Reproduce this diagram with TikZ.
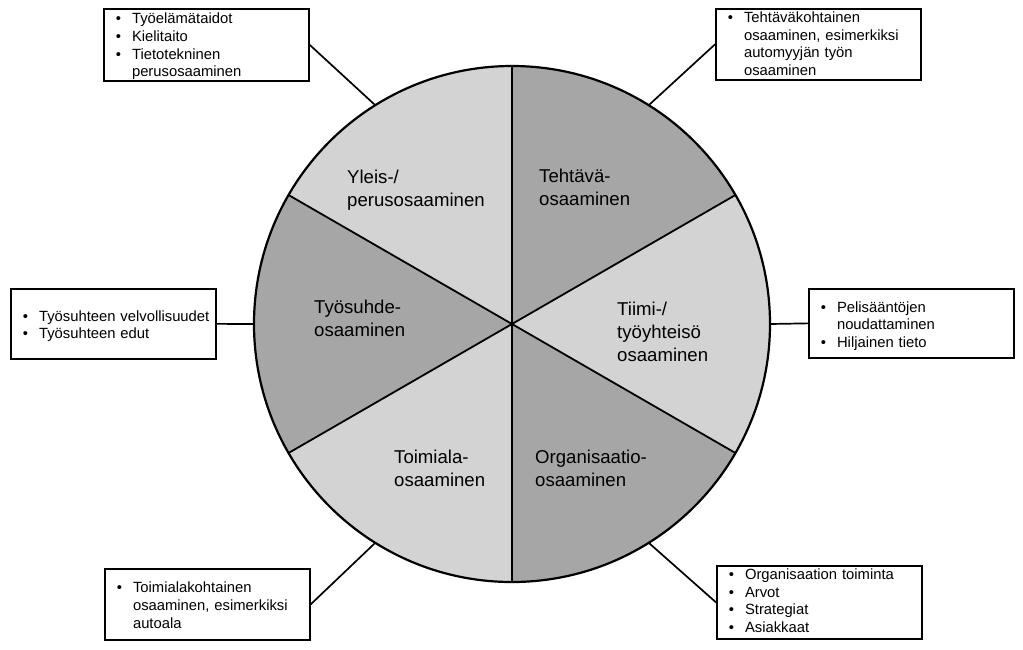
\documentclass[tikz,border=0pt]{standalone}
\usepackage{fontspec}
\setmainfont{Liberation Sans}
\usetikzlibrary{positioning,backgrounds}
\definecolor{lightsector}{RGB}{211,211,211}
\definecolor{darksector}{RGB}{166,166,166}
\newcommand{\notefont}{\fontsize{14.8}{17.7}\selectfont}
\newcommand{\wedgefont}{\fontsize{18.6}{23}\selectfont}
% bullet list, lowered a little inside its box
\newcommand{\pointlist}[2][2.5pt]{\raisebox{-#1}[\height][\depth]{\begin{tabular}{@{\hspace{12pt}}l@{\hspace{11pt}}l@{}}#2\end{tabular}}}

\begin{document}
\begin{tikzpicture}[
    x=1pt, y=-1pt,
    note/.style={draw, line width=1.7pt, anchor=north west, inner sep=0pt, text width=205pt, minimum height=72pt, align=left, font=\notefont},
    wedge/.style={anchor=north west, inner sep=0pt, align=left, font=\wedgefont},
    spoke/.style={line width=1.8pt},
    link/.style={line width=1.7pt}
]
    \useasboundingbox (0,0) rectangle (1023,649);

    % Wheel
    \node[circle, draw, line width=2.2pt, minimum size=516pt, inner sep=0pt, outer sep=0pt] (wheel) at (512,324) {};

    \begin{scope}[on background layer]
        \fill[white] (0,0) rectangle (1023,649);
        \fill[lightsector] (wheel.center) -- ++(-30:258) arc[start angle=-30, end angle=30, radius=258] -- cycle;
        \fill[darksector] (wheel.center) -- ++(30:258) arc[start angle=30, end angle=90, radius=258] -- cycle;
        \fill[lightsector] (wheel.center) -- ++(90:258) arc[start angle=90, end angle=150, radius=258] -- cycle;
        \fill[darksector] (wheel.center) -- ++(150:258) arc[start angle=150, end angle=210, radius=258] -- cycle;
        \fill[lightsector] (wheel.center) -- ++(210:258) arc[start angle=210, end angle=270, radius=258] -- cycle;
        \fill[darksector] (wheel.center) -- ++(270:258) arc[start angle=270, end angle=330, radius=258] -- cycle;
    \end{scope}

    \draw[spoke] (wheel.90) -- (wheel.270);
    \draw[spoke] (wheel.30) -- (wheel.210);
    \draw[spoke] (wheel.150) -- (wheel.330);

    % Wedge labels
    \node[wedge] (yleis) at (347,170) {Yleis-/\\perusosaaminen};
    \node[wedge] (tehtava) at (539,169) {Tehtävä-\\osaaminen};
    \node[wedge] (tyosuhde) at (314,300) {Työsuhde-\\osaaminen};
    \node[wedge] (tiimi) at (617,302) {Tiimi-/\\työyhteisö\\osaaminen};
    \node[wedge] (toimiala) at (394,450) {Toimiala-\\osaaminen};
    \node[wedge] (organisaatio) at (535,450) {Organisaatio-\\osaaminen};

    % Notes
    \node[note] (yleisbox) at (103,8) {\pointlist[2pt]{
        \textbullet & Työelämätaidot\\
        \textbullet & Kielitaito\\
        \textbullet & Tietotekninen\\
                    & perusosaaminen}};
    \node[note, minimum height=71pt] (tehtavabox) at (715,8) {\pointlist[1pt]{
        \textbullet & Tehtäväkohtainen\\
                    & osaaminen, esimerkiksi\\
                    & automyyjän työn\\
                    & osaaminen}};
    \node[note, minimum height=70pt] (tyosuhdebox) at (10,288) {\pointlist{
        \textbullet & Työsuhteen velvollisuudet\\
        \textbullet & Työsuhteen edut}};
    \node[note, minimum height=69pt] (tiimibox) at (808,288) {\pointlist[3pt]{
        \textbullet & Pelisääntöjen\\
                    & noudattaminen\\
        \textbullet & Hiljainen tieto}};
    \node[note, minimum height=71pt] (toimialabox) at (104,568) {\pointlist{
        \textbullet & Toimialakohtainen\\
                    & osaaminen, esimerkiksi\\
                    & autoala}};
    \node[note, minimum height=73pt] (organisaatiobox) at (716,565) {\pointlist[0pt]{
        \textbullet & Organisaation toiminta\\
        \textbullet & Arvot\\
        \textbullet & Strategiat\\
        \textbullet & Asiakkaat}};

    % Links
    \draw[link] (yleisbox.east) -- (wheel.122);
    \draw[link] (tehtavabox.west) -- (wheel.58);
    \draw[link] (tyosuhdebox.east) -- (wheel.west);
    \draw[link] (tiimibox.west) -- (wheel.east);
    \draw[link] (toimialabox.east) -- (wheel.238);
    \draw[link] (organisaatiobox.west) -- (wheel.302);
\end{tikzpicture}
\end{document}
